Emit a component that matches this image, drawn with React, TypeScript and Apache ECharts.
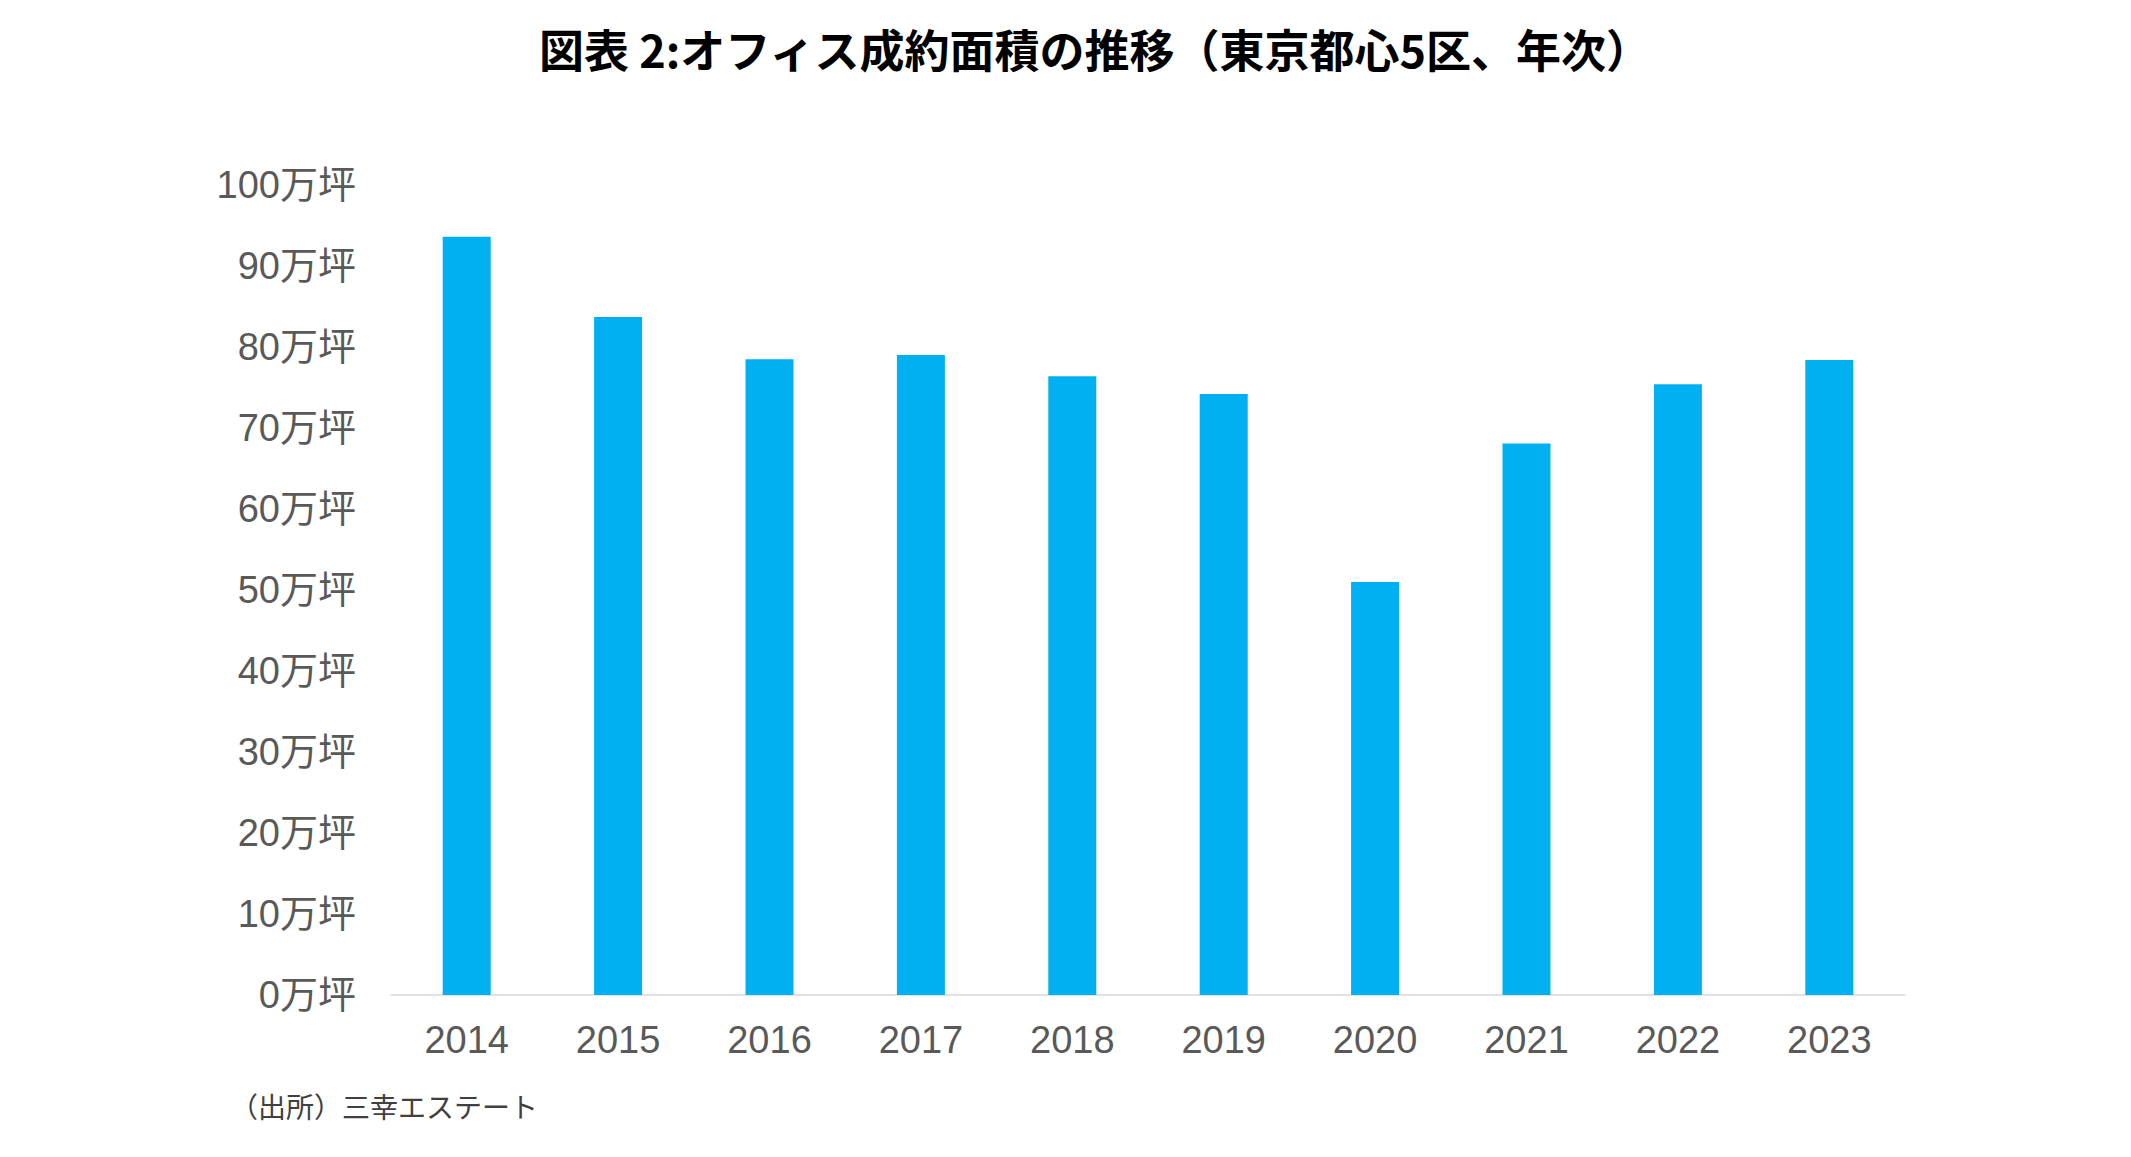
import React, { useEffect, useRef } from "react";
import * as echarts from "echarts";

const categories = ["2014", "2015", "2016", "2017", "2018", "2019", "2020", "2021", "2022", "2023"];
const values = [93.6, 83.7, 78.5, 79.0, 76.4, 74.2, 51.0, 68.1, 75.4, 78.4];
const titleText = "図表 2:オフィス成約面積の推移（東京都心5区、年次）";
const sourceText = "（出所）三幸エステート";
const yUnit = "万坪";

export default function App() {
  const ref = useRef<HTMLDivElement>(null);
  useEffect(() => {
    document.body.style.margin = "0";
    const chart = echarts.init(ref.current!, undefined, { renderer: "svg" });
    const font = "'Liberation Sans', Arial, 'Noto Sans CJK JP', sans-serif";
    chart.setOption({
      animation: false,
      backgroundColor: "#ffffff",
      grid: {
        left: 391,
        right: 226,
        top: 185,
        bottom: 162,
        containLabel: false,
        outerBoundsMode: "none",
      },
      xAxis: {
        type: "category",
        data: categories,
        axisLine: { show: true, lineStyle: { color: "#d9d9d9", width: 1.5 } },
        axisTick: { show: false },
        axisLabel: {
          color: "#595959",
          fontSize: 38,
          fontFamily: font,
          margin: 26,
        },
      },
      yAxis: {
        type: "value",
        min: 0,
        max: 100,
        interval: 10,
        axisLine: { show: false },
        axisTick: { show: false },
        splitLine: { show: false },
        axisLabel: {
          color: "#595959",
          fontSize: 38,
          fontFamily: font,
          margin: 35,
          formatter: (v: number) => `${v}${yUnit}`,
        },
      },
      series: [
        {
          type: "bar",
          data: values,
          barWidth: 48,
          itemStyle: { color: "#00B0F0" },
        },
      ],
      graphic: [
        {
          type: "text",
          x: 1095,
          y: 48,
          style: {
            text: titleText,
            fontSize: 45,
            fontWeight: "bold",
            fontFamily: "'Noto Sans CJK JP', sans-serif",
            fill: "#000000",
            align: "center",
            verticalAlign: "middle",
          },
        },
        {
          type: "text",
          x: 230,
          y: 1106,
          style: {
            text: sourceText,
            fontSize: 28,
            fontFamily: "'Noto Sans CJK JP', sans-serif",
            fill: "#404040",
            align: "left",
            verticalAlign: "middle",
          },
        },
      ],
    });
    return () => chart.dispose();
  }, []);
  return (
    <div
      ref={ref}
      style={{ position: "fixed", left: 0, top: 0, width: 2131, height: 1157 }}
    />
  );
}
